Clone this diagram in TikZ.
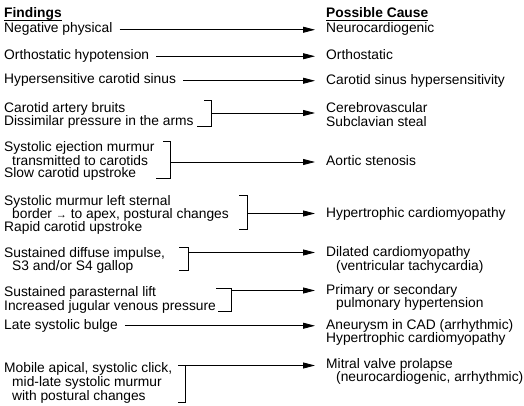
\documentclass[tikz,border=0pt]{standalone}
\usepackage{fontspec}
\setmainfont{Liberation Sans}
\usetikzlibrary{arrows.meta}
\begin{document}
\begin{tikzpicture}[x=1pt,y=-1pt,
  txt/.style={inner sep=0pt, anchor=base west, font=\fontsize{13.8}{14}\selectfont, text height=9.5pt, text depth=3pt},
  hd/.style={txt, font=\fontsize{13.8}{14}\selectfont\bfseries},
  ln/.style={line width=0.8pt},
  arr/.style={line width=0.8pt, -{Triangle[length=12pt,width=6pt]}, shorten >=11pt},
  sarr/.style={arr, shorten <=7pt}]
\useasboundingbox (0,0) rectangle (524,406);
% headings
\node[hd] (h1) at (4,18) {Findings};
\node[hd] (h2) at (326,18) {Possible Cause};
\draw[ln] ([yshift=-2pt]h1.base west) -- ([yshift=-2pt]h1.base east);
\draw[ln] ([yshift=-2pt]h2.base west) -- ([yshift=-2pt]h2.base east);
% row 1
\node[txt] (f1) at (4,33) {Negative physical};
\node[txt] (c1) at (326,33) {Neurocardiogenic};
\draw[sarr] (f1.east) -- (f1.east -| c1.west);
% row 2
\node[txt] (f2) at (4,59.5) {Orthostatic hypotension};
\node[txt] (c2) at (326,60) {Orthostatic};
\draw[sarr] (f2.east) -- (f2.east -| c2.west);
% row 3
\node[txt] (f3) at (4,84) {Hypersensitive carotid sinus};
\node[txt] (c3) at (326,84.5) {Carotid sinus hypersensitivity};
\draw[sarr] (f3.east) -- (f3.east -| c3.west);
% row 4
\node[txt] (f4a) at (4,113) {Carotid artery bruits};
\node[txt] (f4b) at (4,126) {Dissimilar pressure in the arms};
\node[txt] (c4a) at (326,112.5) {Cerebrovascular};
\node[txt] (c4b) at (326,126.5) {Subclavian steal};
\draw[ln] (204,100) -| (211,126) -- (197,126);
\coordinate (j4) at (211,113);
\draw[arr] (j4) -- (j4 -| c4a.west);
% row 5
\node[txt] (f5a) at (4,152) {Systolic ejection murmur};
\node[txt] (f5b) at (12,165) {transmitted to carotids};
\node[txt] (f5c) at (4,178) {Slow carotid upstroke};
\node[txt] (c5) at (326,166) {Aortic stenosis};
\draw[ln] (163,141) -| (170,178) -- (156,178);
\coordinate (j5) at (170,162);
\draw[arr] (j5) -- (j5 -| c5.west);
% row 6
\node[txt] (f6a) at (4,205.5) {Systolic murmur left sternal};
\node[txt] (f6b) at (12,218.5) {border \raisebox{0.3pt}{\fontsize{11}{11}\selectfont →} to apex, postural changes};
\node[txt] (f6c) at (4,231.5) {Rapid carotid upstroke};
\node[txt] (c6) at (326,217.5) {Hypertrophic cardiomyopathy};
\draw[ln] (239,195) -| (247,229) -- (239,229);
\coordinate (j6) at (247,213.5);
\draw[arr] (j6) -- (j6 -| c6.west);
% row 7
\node[txt] (f7a) at (4,257) {Sustained diffuse impulse,};
\node[txt] (f7b) at (12,270.5) {S3 and/or S4 gallop};
\node[txt] (c7a) at (326,256.5) {Dilated cardiomyopathy};
\node[txt] (c7b) at (336,270.5) {(ventricular tachycardia)};
\draw[ln] (179,247) -| (188,270) -- (179,270);
\coordinate (j7) at (188,252.5);
\draw[arr] (j7) -- (j7 -| c7a.west);
% row 8
\node[txt] (f8a) at (4,296) {Sustained parasternal lift};
\node[txt] (f8b) at (4,310) {Increased jugular venous pressure};
\node[txt] (c8a) at (326,294) {Primary or secondary};
\node[txt] (c8b) at (336,307) {pulmonary hypertension};
\draw[ln] (216,288) -| (231,311.5) -- (218,311.5);
\coordinate (j8) at (231,290.5);
\draw[arr] (j8) -- (j8 -| c8a.west);
% row 9
\node[txt] (f9) at (4,329) {Late systolic bulge};
\node[txt] (c9a) at (326,329) {Aneurysm in CAD (arrhythmic)};
\node[txt] (c9b) at (326,342) {Hypertrophic cardiomyopathy};
\draw[sarr] (f9.east) -- (f9.east -| c9a.west);
% row 10
\node[txt] (f10a) at (4,372) {Mobile apical, systolic click,};
\node[txt] (f10b) at (12,386.5) {mid-late systolic murmur};
\node[txt] (f10c) at (12,400.5) {with postural changes};
\node[txt] (c10a) at (326,368) {Mitral valve prolapse};
\node[txt] (c10b) at (336,381.5) {(neurocardiogenic, arrhythmic)};
\draw[ln] (178,365.5) -| (185,402.5) -- (178,402.5);
\coordinate (j10) at (185,365.5);
\draw[arr] (j10) -- (j10 -| c10a.west);
\end{tikzpicture}
\end{document}
